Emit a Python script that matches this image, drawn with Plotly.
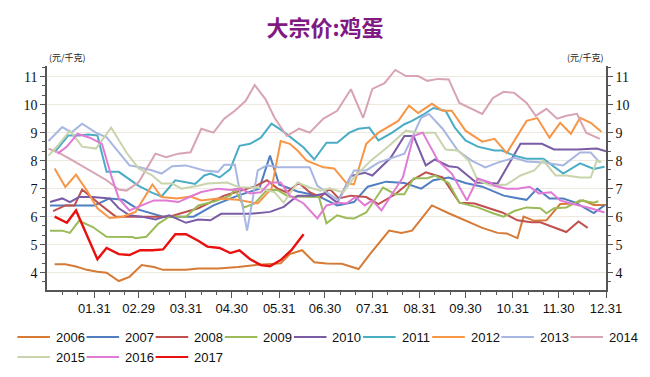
import plotly.graph_objects as go

title_text = "大宗价:鸡蛋"
unit_text = "(元/千克)"
tick_days = [31, 60, 91, 121, 152, 182, 213, 244, 274, 305, 335, 366]
tick_labels = ["01.31", "02.29", "03.31", "04.30", "05.31", "06.30", "07.31", "08.31", "09.30", "10.31", "11.30", "12.31"]
minor_days = [10, 20, 41, 51, 70, 80, 101, 111, 131, 141, 162, 172, 192, 202, 223, 233, 254, 264, 284, 294, 315, 325, 345, 355]

years = ["2006", "2007", "2008", "2009", "2010", "2011", "2012", "2013", "2014", "2015", "2016", "2017"]

days_2006 = [5, 12, 19, 26, 33, 39, 47, 54, 62, 70, 76, 91, 99, 112, 125, 138, 153, 159, 167, 175, 183, 193, 204, 212, 224, 232, 239, 252, 263, 274, 285, 295, 301, 308, 312, 319, 327, 336, 345, 351, 358, 366]
price_2006 = [4.3, 4.3, 4.22, 4.1, 4.03, 4.0, 3.7, 3.85, 4.27, 4.2, 4.1, 4.1, 4.15, 4.15, 4.2, 4.28, 4.33, 4.66, 4.8, 4.37, 4.33, 4.32, 4.13, 4.7, 5.5, 5.42, 5.5, 6.4, 6.12, 5.85, 5.6, 5.42, 5.4, 5.23, 6.0, 5.85, 5.87, 6.45, 6.47, 6.58, 6.42, 6.42]

days_2007 = [2, 31, 41, 50, 60, 76, 96, 109, 125, 139, 146, 152, 164, 177, 190, 201, 210, 222, 234, 245, 253, 263, 274, 285, 299, 314, 321, 329, 338, 346, 358, 365]
price_2007 = [6.4, 6.4, 6.65, 6.6, 6.25, 6.0, 6.0, 6.4, 6.75, 7.0, 8.18, 7.15, 6.9, 6.75, 6.4, 6.52, 7.07, 7.25, 7.2, 7.0, 7.3, 7.4, 7.2, 7.07, 6.75, 6.6, 7.0, 6.65, 6.65, 6.5, 6.13, 6.4]

days_2008 = [4, 12, 18, 23, 34, 45, 56, 67, 80, 99, 116, 125, 136, 144, 151, 157, 165, 172, 179, 185, 191, 199, 209, 217, 228, 239, 248, 259, 270, 280, 288, 298, 308, 317, 323, 332, 340, 348, 354]
price_2008 = [6.2, 6.4, 6.4, 6.97, 6.47, 6.0, 6.0, 6.0, 6.0, 6.3, 6.75, 6.9, 7.08, 7.3, 7.0, 6.87, 7.2, 6.87, 6.7, 7.0, 6.65, 6.75, 6.7, 6.45, 6.8, 7.3, 7.58, 7.4, 6.5, 6.47, 6.33, 6.15, 5.87, 5.8, 5.8, 5.62, 5.45, 5.83, 5.6]

days_2009 = [2, 10, 15, 21, 30, 39, 56, 58, 65, 73, 80, 91, 99, 110, 120, 123, 129, 136, 144, 151, 158, 178, 183, 190, 196, 201, 209, 220, 228, 234, 240, 249, 254, 263, 270, 282, 292, 299, 306, 314, 323, 327, 332, 340, 349, 358, 361]
price_2009 = [5.5, 5.5, 5.42, 5.85, 5.63, 5.28, 5.27, 5.23, 5.28, 5.75, 6.0, 6.0, 6.4, 6.55, 6.75, 7.0, 6.33, 6.47, 6.95, 6.95, 6.72, 6.7, 5.76, 6.05, 5.95, 5.93, 6.15, 7.04, 6.8, 6.8, 7.37, 7.37, 7.47, 7.2, 6.5, 6.33, 6.12, 6.0, 6.2, 6.33, 6.3, 6.12, 6.3, 6.33, 6.58, 6.5, 6.55]

days_2010 = [2, 10, 15, 21, 30, 41, 47, 54, 62, 71, 80, 91, 99, 107, 114, 133, 146, 155, 164, 175, 182, 190, 199, 208, 213, 225, 234, 240, 248, 254, 263, 269, 281, 295, 310, 324, 332, 347, 360, 366]
price_2010 = [6.52, 6.65, 6.52, 6.7, 6.7, 6.65, 6.3, 6.05, 6.0, 5.9, 6.05, 5.78, 5.9, 5.87, 6.1, 6.1, 6.17, 6.35, 6.75, 6.75, 6.83, 6.5, 7.45, 7.57, 7.47, 8.1, 8.88, 8.88, 7.83, 8.04, 7.8, 7.76, 7.22, 7.18, 8.6, 8.6, 8.4, 8.4, 8.43, 8.33]

days_2011 = [5, 14, 21, 27, 33, 39, 47, 60, 69, 75, 84, 97, 103, 107, 113, 120, 126, 133, 140, 147, 154, 162, 168, 175, 183, 190, 198, 204, 211, 217, 226, 234, 239, 246, 253, 261, 267, 274, 282, 293, 298, 306, 314, 325, 338, 349, 358, 365]
price_2011 = [8.3, 8.9, 8.9, 8.93, 8.9, 7.6, 7.6, 7.1, 6.85, 6.72, 7.3, 7.17, 7.47, 7.54, 7.4, 7.7, 8.53, 8.6, 8.82, 9.32, 9.07, 8.72, 8.47, 8.04, 8.64, 8.64, 9.0, 9.14, 9.18, 8.72, 9.0, 9.3, 9.42, 9.63, 9.88, 9.78, 9.18, 8.72, 8.5, 8.36, 8.36, 8.18, 8.07, 8.07, 7.54, 7.9, 7.7, 7.78]

days_2012 = [5, 12, 19, 26, 33, 41, 49, 58, 69, 75, 85, 94, 101, 112, 125, 138, 147, 153, 159, 164, 170, 181, 188, 196, 201, 209, 217, 230, 237, 243, 252, 259, 265, 274, 285, 293, 301, 314, 321, 329, 336, 343, 349, 356, 363]
price_2012 = [7.72, 7.06, 7.5, 6.94, 6.3, 5.95, 5.99, 6.17, 7.15, 6.7, 6.65, 6.72, 6.58, 6.65, 6.6, 6.47, 7.0, 8.7, 8.6, 8.36, 8.0, 7.76, 7.72, 7.2, 7.15, 8.6, 9.0, 9.42, 9.96, 9.7, 10.03, 9.78, 9.78, 9.07, 8.68, 8.78, 8.27, 9.42, 9.52, 8.82, 9.35, 8.96, 9.53, 9.35, 9.03]

days_2013 = [1, 10, 16, 23, 32, 39, 54, 60, 69, 75, 82, 91, 103, 112, 116, 123, 131, 138, 144, 152, 172, 177, 183, 191, 201, 209, 217, 234, 239, 245, 250, 259, 269, 278, 287, 295, 306, 314, 325, 338, 349, 356, 362]
price_2013 = [8.7, 9.2, 9.0, 9.32, 9.0, 8.83, 7.83, 7.77, 7.65, 7.54, 7.8, 7.83, 7.65, 7.6, 7.85, 7.85, 5.5, 7.65, 7.83, 7.76, 7.76, 7.1, 6.87, 6.58, 7.65, 7.65, 7.93, 8.25, 8.82, 9.53, 9.67, 9.14, 8.36, 8.0, 7.76, 7.93, 8.1, 7.97, 7.93, 7.83, 8.29, 8.29, 7.93]

days_2014 = [1, 7, 17, 30, 39, 47, 52, 60, 71, 78, 86, 94, 101, 109, 116, 123, 130, 136, 143, 149, 157, 165, 172, 181, 190, 199, 207, 213, 221, 228, 235, 243, 249, 256, 263, 270, 278, 285, 292, 299, 306, 314, 320, 327, 334, 340, 347, 353, 362]
price_2014 = [8.43, 8.3, 8.0, 7.6, 7.3, 6.97, 6.93, 7.23, 8.25, 8.12, 8.25, 8.3, 9.14, 9.0, 9.5, 9.78, 10.13, 10.7, 10.2, 9.53, 8.88, 9.14, 9.0, 9.5, 9.78, 10.55, 9.53, 10.56, 10.77, 11.24, 11.02, 11.02, 10.85, 10.92, 10.9, 10.06, 9.85, 9.67, 10.24, 10.46, 10.42, 10.06, 9.6, 9.85, 9.5, 9.6, 9.67, 9.0, 8.78]

days_2015 = [1, 7, 15, 23, 32, 42, 52, 60, 69, 75, 82, 88, 99, 105, 118, 126, 138, 149, 155, 164, 172, 179, 185, 194, 201, 212, 224, 235, 243, 254, 261, 269, 276, 282, 291, 301, 310, 319, 325, 333, 340, 349, 356, 360, 363]
price_2015 = [8.18, 8.53, 9.07, 8.5, 8.43, 9.18, 8.29, 7.72, 7.47, 7.18, 7.18, 7.0, 7.1, 7.18, 7.22, 7.04, 7.04, 6.87, 6.5, 7.22, 7.04, 6.93, 7.0, 6.87, 7.4, 8.0, 8.53, 9.07, 9.0, 9.0, 8.4, 8.36, 8.0, 7.3, 7.1, 7.15, 7.47, 7.65, 8.0, 7.47, 7.47, 7.4, 7.4, 8.0, 7.95]

days_2016 = [7, 13, 20, 28, 36, 42, 47, 54, 62, 70, 78, 86, 94, 101, 112, 120, 127, 133, 140, 146, 153, 159, 168, 177, 183, 191, 196, 202, 208, 213, 219, 226, 233, 240, 246, 256, 265, 275, 282, 290, 293, 301, 308, 316, 322, 330, 336, 343, 349, 356, 365]
price_2016 = [8.25, 8.5, 8.96, 8.82, 8.6, 7.47, 6.65, 6.22, 6.4, 6.58, 6.58, 6.52, 6.72, 6.88, 7.0, 6.95, 7.0, 6.83, 6.87, 7.22, 7.22, 6.75, 6.47, 5.94, 6.4, 6.5, 6.47, 6.7, 6.4, 6.58, 6.22, 6.8, 7.4, 8.88, 9.0, 8.0, 7.54, 6.58, 7.36, 7.22, 7.1, 7.0, 7.0, 7.07, 6.83, 6.87, 6.58, 6.47, 6.4, 6.3, 6.15]

days_2017 = [5, 13, 19, 33, 39, 47, 54, 61, 69, 76, 84, 91, 99, 105, 113, 120, 126, 133, 140, 146, 153, 160, 168]
price_2017 = [6.0, 5.78, 6.22, 4.48, 4.88, 4.66, 4.63, 4.8, 4.8, 4.83, 5.37, 5.37, 5.14, 4.93, 4.88, 4.7, 4.8, 4.48, 4.27, 4.23, 4.45, 4.8, 5.37]

colors = ["#d67a35", "#4f7fc0", "#c0504d", "#9bbb59", "#7a5ca6", "#4bacc6",
          "#f79646", "#a8b6e2", "#d8a4b4", "#c8d4ac", "#e07ad4", "#e8110f"]

series_days = [days_2006, days_2007, days_2008, days_2009, days_2010, days_2011,
               days_2012, days_2013, days_2014, days_2015, days_2016, days_2017]
series_price = [price_2006, price_2007, price_2008, price_2009, price_2010, price_2011,
                price_2012, price_2013, price_2014, price_2015, price_2016, price_2017]

fig = go.Figure()
for i, yr in enumerate(years):
    fig.add_trace(go.Scatter(
        x=series_days[i], y=series_price[i], name=yr, mode="lines",
        line=dict(color=colors[i], width=2 if yr != "2017" else 2.4),
        yaxis="y2" if yr == "2017" else "y", showlegend=False,
    ))

# Figure geometry (the page body has an 8px default margin, compensated here)
FIG_W, FIG_H = 634, 361
M_L, M_R, M_T, M_B = 39, 29, 58, 79
PLOT_W = FIG_W - M_L - M_R
PLOT_H = FIG_H - M_T - M_B


def px_to_paper_x(px):
    return (px - M_L) / PLOT_W


def px_to_paper_y(py):
    return (FIG_H - M_B - py) / PLOT_H


# Hand-built legend: 9 items in the first row, 3 in the second
legend_font = dict(family="Liberation Sans Narrow, Liberation Sans, Arial, sans-serif", size=13, color="#111")
shapes = []
annotations = []
per_row = 9
item_step = 70
row_y = [329, 349]
for i, yr in enumerate(years):
    row, col = divmod(i, per_row)
    x0 = 9 + col * item_step
    yy = px_to_paper_y(row_y[row])
    shapes.append(dict(type="line", xref="paper", yref="paper",
                       x0=px_to_paper_x(x0), x1=px_to_paper_x(x0 + 33), y0=yy, y1=yy,
                       line=dict(color=colors[i], width=2)))
    annotations.append(dict(text=yr, xref="paper", yref="paper", x=px_to_paper_x(x0 + 37), y=yy,
                            xanchor="left", yanchor="middle", showarrow=False, font=legend_font))

for side_x, anchor in [(0, "left"), (1, "right")]:
    annotations.append(dict(text=unit_text, xref="paper", yref="paper", x=side_x, y=1.04,
                            xanchor=anchor, yanchor="middle", showarrow=False,
                            font=dict(family="Noto Sans CJK SC, sans-serif", size=9, color="#222")))

yrange = [3.38, 11.38]
axis_font = dict(family="Liberation Serif, DejaVu Serif, serif", size=14, color="#111")
common_y = dict(
    range=yrange, tickmode="array", tickvals=[4, 5, 6, 7, 8, 9, 10, 11],
    ticks="outside", ticklen=5, tickwidth=1.2, tickcolor="#555",
    showline=True, linecolor="#555", linewidth=1.6,
    tickfont=axis_font, zeroline=False,
    minor=dict(tickmode="array",
               tickvals=[3.67, 4.33, 4.67, 5.33, 5.67, 6.33, 6.67, 7.33, 7.67, 8.33, 8.67, 9.33, 9.67, 10.33, 10.67, 11.33],
               ticks="outside", ticklen=3, tickcolor="#555", showgrid=False),
)

fig.update_layout(
    width=FIG_W, height=FIG_H,
    margin=dict(l=M_L, r=M_R, t=M_T, b=M_B),
    paper_bgcolor="white", plot_bgcolor="white",
    title=dict(text="<b>" + title_text + "</b>", x=0.5, xanchor="center", y=0.945, yanchor="middle",
               font=dict(family="Noto Sans CJK SC, sans-serif", size=22, color="#7f1a84")),
    xaxis=dict(
        range=[0, 366], tickmode="array", tickvals=tick_days, ticktext=tick_labels,
        ticks="outside", ticklen=6, tickwidth=1.2, tickcolor="#555",
        showline=True, linecolor="#555", linewidth=1.6, showgrid=False, zeroline=False,
        tickfont=dict(family="Liberation Sans Narrow, Liberation Sans, Arial, sans-serif", size=13, color="#111"),
        minor=dict(tickmode="array", tickvals=minor_days, ticks="outside", ticklen=3, tickcolor="#555", showgrid=False),
    ),
    yaxis=dict(**common_y, side="left", showgrid=True, gridcolor="#ede8e0", gridwidth=1),
    yaxis2=dict(**common_y, side="right", overlaying="y", showgrid=False),
    showlegend=False,
    shapes=shapes,
    annotations=annotations,
)

fig.write_html("out.html")
